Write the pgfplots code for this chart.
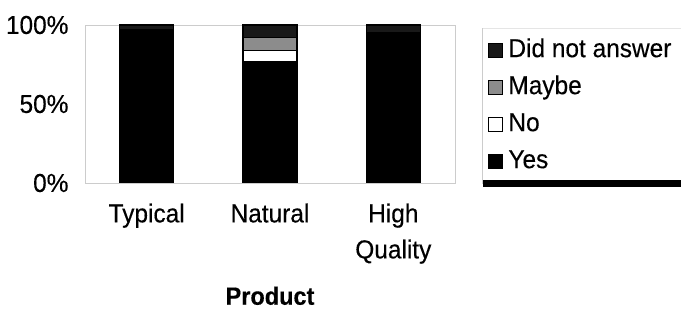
\documentclass[border=0pt]{standalone}
\usepackage{fontspec}
\setmainfont{Liberation Sans}[FakeStretch=0.94, FakeBold=0.3]
\usepackage{pgfplots}
\pgfplotsset{compat=1.18}
\pgfplotsset{mylegend/.style={legend image code/.code={\draw[##1, draw=black, line width=1.3pt] (0pt,-7pt) rectangle (14pt,7pt);}}}
\begin{document}
\begin{tikzpicture}[x=1pt,y=1pt]
\useasboundingbox (0,0) rectangle (681,310);
\draw[gray!20, line width=0.8pt] (482,282) -- (681,282);
\draw[gray!40, line width=0.8pt] (482,126) -- (482,282);
\begin{axis}[at={(85pt,127pt)}, anchor=south west, scale only axis,
 width=370pt, height=158pt,
 ybar stacked, bar width=54pt,
 xmin=-0.5, xmax=2.5, ymin=0, ymax=100,
 xtick={0,1,2}, xticklabels={Typical,Natural,{High\\Quality}},
 ytick={0,50,100}, yticklabels={0\%,50\%,100\%},
 tick label style={font=\fontsize{26}{36}\selectfont},
 xticklabel style={align=center, yshift=-17pt},
 yticklabel style={xshift=-13pt},
 major tick length=0pt,
 axis line style={gray!40},
 xlabel={Product},
 xlabel style={font=\fontsize{25}{28}\selectfont\bfseries, yshift=-16pt},
 reverse legend,
 legend style={at={(1.089,0.918)}, anchor=north west, draw=none, fill=none,
   font=\fontsize{26}{30}\selectfont, row sep=12pt, inner sep=0pt,
   nodes={inner sep=0pt, text height=19pt, text depth=6pt},
   /tikz/every odd column/.append style={column sep=5pt}},
 legend cell align=left,
]
\addplot[fill=black, draw=black, line width=1.5pt, mylegend] coordinates {(0,97) (1,77) (2,95)};
\addlegendentry{Yes}
\addplot[fill=white, draw=black, line width=1.5pt, mylegend] coordinates {(0,0) (1,7) (2,0)};
\addlegendentry{No}
\addplot[fill=black!45, draw=black, line width=1.5pt, mylegend] coordinates {(0,0) (1,8) (2,0)};
\addlegendentry{Maybe}
\addplot[fill=black!90, draw=black, line width=1.5pt, mylegend] coordinates {(0,3) (1,8) (2,5)};
\addlegendentry{Did not answer}
\end{axis}
\draw[line width=7pt] (483,126) -- (681,126);
\end{tikzpicture}
\end{document}
